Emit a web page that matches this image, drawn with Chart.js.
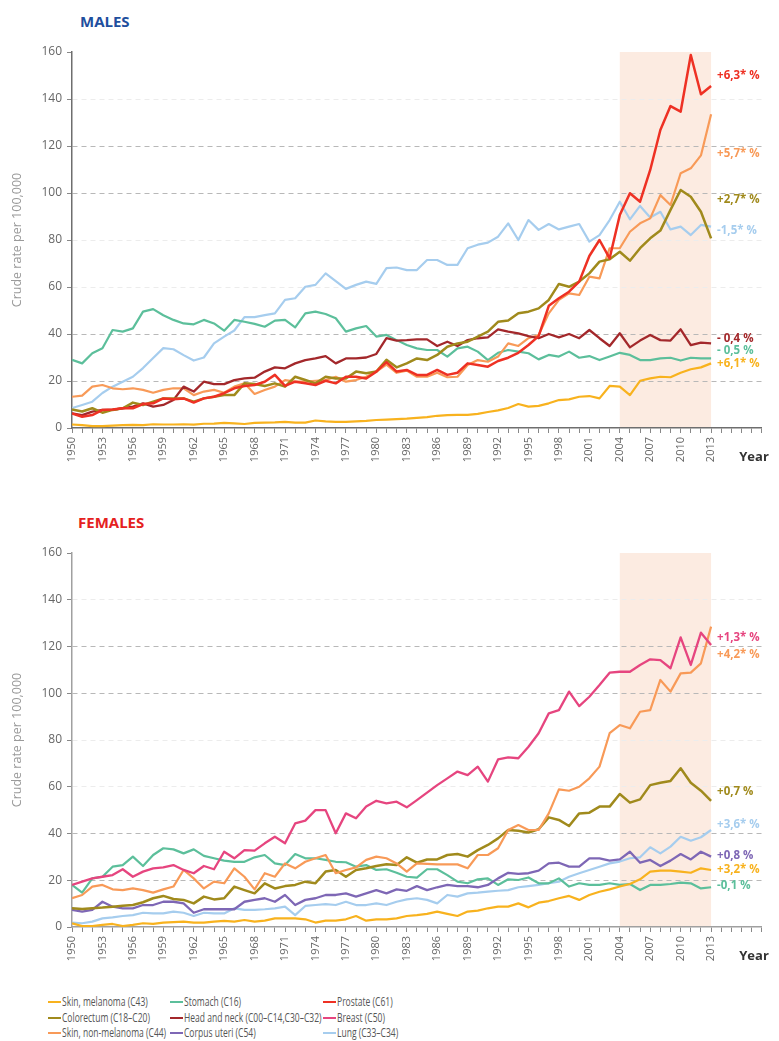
<!DOCTYPE html>
<html><head><meta charset="utf-8">
<script src="https://cdn.jsdelivr.net/npm/chart.js@4.4.1/dist/chart.umd.min.js"></script>
<style>
body{margin:0;background:#fff;width:779px;height:1041px;position:relative;overflow:hidden;font-family:"Open Sans",sans-serif;}
.title{position:absolute;font-weight:bold;font-size:15px;line-height:18px;}
#c1{position:absolute;left:0;top:0;}
#c2{position:absolute;left:0;top:500px;}
.item{position:absolute;white-space:nowrap;height:14px;line-height:14px;font-family:"Open Sans",sans-serif;font-size:12px;color:#555;}
.item i{display:inline-block;width:13px;height:2.5px;vertical-align:middle;margin-right:1px;position:relative;top:-1px;}
.item span{display:inline-block;transform:scaleX(0.71);transform-origin:left center;}
</style></head>
<body>
<div class="title" style="left:80px;top:12px;color:#1f4f9e;">MALES</div>
<div class="title" style="left:78px;top:513px;color:#e5211e;">FEMALES</div>
<canvas id="c1" width="779" height="480"></canvas>
<canvas id="c2" width="779" height="475"></canvas>
<div id="legend"></div>
<script>
// ---------- data ----------
const years = Array.from({length: 64}, (_, i) => 1950 + i);
const labelYears = [1950,1953,1956,1959,1962,1965,1968,1971,1974,1977,1980,1983,1986,1989,1992,1995,1998,2001,2004,2007,2010,2013];
const shadeStart = 2004, shadeEnd = 2013;

// MALES
const mStomach = [29,27.5,31.8,33.9,41.7,41,42.4,49.5,50.6,48, 46,44.5,44.1,46,44.5,41.4,46,45.2,44.3,43.1, 45.7,46,42.8,48.8,49.5,48.5,46.7,41,42.4,43.4, 38.9,39.6,37.4,35.3,33.9,33.2,33.2,30.4,33.9,34.6, 32.5,28.9,32,33.2,32.5,31.8,29.2,31.1,30.4,32.5, 29.9,30.6,28.9,30.4,32,31.1,28.9,28.9,29.6,29.9, 28.7,29.9,29.6,29.6];
const mLung = [8.5,9.8,11.2,14.9,17.6,19.7,21.8,25.5,29.8,34, 33.5,31,28.7,30,36,38.9,41.5,47.2,47.2,48, 48.8,54.5,55.2,60.1,60.9,65.8,62.5,59.2,60.9,62.3, 61.3,68,68.3,67.2,67.2,71.5,71.5,69.4,69.4,76.5, 78,78.9,81.4,87.1,80,88.5,84.3,86.8,84.5,85.7, 86.8,79.3,82.1,88.5,96.3,88.8,94.5,89.6,92,84.5, 85.7,82.1,86.4,85.7];
const mHeadNeck = [6.2,5.5,7,7.7,7.7,8.4,9.1,10.5,9.1,9.8, 11.9,17.6,15.5,19.7,18.7,18.7,20.4,21.1,21.4,24, 25.8,25.4,27.5,28.9,29.6,30.6,27.5,29.6,29.6,30, 31.5,38.2,37.2,37.4,37.7,37.7,34.9,36.7,34.9,37.4, 38.2,38.6,42,41,40.3,39.1,38.2,40,38.6,40, 38.2,41.7,38.2,34.9,40.3,34.3,37.2,39.6,37.4,37.2, 42,35.3,36.3,36];
const mSkinNonMel = [13.3,13.8,17.6,18.3,16.9,16.5,16.9,16.2,15,16.2, 16.9,16.9,14,15.5,16.2,15,17.6,19,14.5,16.2, 17.6,20.4,19.7,19.7,20.1,20.4,21.8,19.7,20.4,21.8, 24,27,23.5,24.4,21.8,21.8,23.5,21.6,21.8,26.8, 28.9,28.2,30.4,36,34.9,38.2,39.6,48.8,54.5,57.3, 56.6,64.4,63.7,76.5,76.5,83.5,87.1,89.2,99.1,94.9, 108.4,110.5,116,133.5];
const mColorectum = [7.9,7,8.4,6.5,7.7,8.4,10.8,9.8,11.2,12.6, 12.6,12.6,11.2,12.6,13.3,14,14,19,18.7,17.9, 19,17.6,21.8,20.4,19,21.8,21.1,21.1,24,23.3, 24,29,25.8,27.5,29.6,28.9,31.1,34.6,36,36.7, 38.9,41,45.2,45.7,48.8,49.5,50.9,54.5,61.3,60.1, 62.3,65.8,70.8,71.8,75,71.2,76.5,80.7,84,92.8, 101.3,98.4,92,80.7];
const mProstate = [6.2,4.8,5.5,7.7,7.9,8.4,8.4,10.2,10.5,12.6, 12.2,12.6,10.8,12.6,13.3,14.8,16.9,17.9,18.3,19.7, 22.6,17.9,19.7,19,18.3,20.1,19,21.8,21.8,21.1, 24,28,24,24.7,22.6,22.6,24.7,22.6,23.5,27.5, 26.8,26.1,28.5,29.9,32,35.3,39.1,52,55.2,58, 62.3,73.2,80,72.2,90.6,99.9,96.3,109.8,126.8,137, 134.6,158.7,142,145.5];
const mMelanoma = [1.5,1.2,0.8,0.8,1,1.2,1.3,1.2,1.6,1.5, 1.5,1.6,1.4,1.8,1.9,2.2,2,1.7,2.2,2.3, 2.4,2.6,2.3,2.3,3.2,2.8,2.6,2.6,2.8,3, 3.4,3.6,3.8,4,4.3,4.6,5.2,5.5,5.6,5.6, 6,6.8,7.5,8.5,10.2,9.1,9.4,10.5,11.9,12.2, 13.3,13.6,12.6,17.9,17.6,14,20.1,21.1,21.8,21.6, 23.5,25,25.8,27.5];

// FEMALES
const fBreast = [18,19.4,20.8,21.5,22.2,24.7,21.5,23.7,25.1,25.5, 26.5,24.4,23,26.1,24.7,32.2,29.4,32.9,32.7,35.8, 38.6,35.8,44.3,45.5,50,50,40.1,48.6,46.5,51.5, 54,52.9,53.6,51.2,54.3,57.5,60.7,63.6,66.5,65, 68.6,62.2,71.7,72.6,72.2,77.1,82.9,91.4,92.8,100.7, 94.5,98.5,103.5,108.8,109.2,109.2,112.1,114.5,114.2,110.7, 123.9,112.1,125.9,120.6];
const fSkinNonMel = [12.3,13.7,17.3,18,16.1,15.8,16.5,15.8,14.7,16.1, 17.3,24.4,20.8,16.5,19.4,18.7,25.1,21.5,16.1,23, 21.5,27.2,25.1,27.9,29.4,30.8,23,24.4,25.5,28.7, 30.1,29.4,27.2,23.7,27.2,27,26.8,26.8,26.8,25.1, 30.8,30.8,33.7,41.5,43.6,41.5,41.5,48.6,58.9,58.3, 60,63.6,68.6,82.9,86.4,85,92.1,92.8,105.7,100.7, 108.5,108.8,112.8,128.5];
const fColorectum = [8,7.7,8,8.3,8.7,9.1,9.4,10.6,12.3,13.3, 12,11.6,10.1,13,11.8,12.3,17.3,15.8,14.4,18.7, 16.5,17.5,18,19.4,18.7,23.7,24.4,21.5,24.4,25.1, 26.1,26.8,26.5,29.8,27.5,28.9,28.9,30.8,31.2,30.1, 32.9,35.1,37.9,41.5,41.2,40.4,41.8,46.9,45.8,43.2, 48.6,48.9,51.5,51.5,56.9,53.2,54.6,60.7,61.7,62.5, 67.9,61.7,58.3,54];
const fStomach = [18,14.7,20.8,21.5,25.8,26.5,30.1,26.1,30.8,33.7, 33.2,31.5,33.2,30.4,29.4,28.4,27.9,27.9,29.8,30.8, 27.2,26.5,31.2,29.4,29.4,28.7,27.9,27.7,25.8,26.5, 24.4,24.7,23.2,21.5,21.1,24.7,24.7,22.2,19.4,18.7, 20.4,20.8,18,20.4,20.1,21.2,18.7,18.7,20.8,17.3, 18.7,18,18,18.7,18,18.4,15.8,18,18,18.4, 19,18.7,16.5,17];
const fCorpusUteri = [7.3,6.6,7.3,10.8,8.7,8,8,9.4,9.4,10.8, 10.8,10.1,6.1,7.6,7.6,7.6,7.6,10.8,11.6,12.3, 10.8,13.7,9.4,11.6,12.3,13.7,13.7,14.4,13,14.4, 15.8,14.4,16.1,15.5,17.5,15.8,17,18,17.5,17.5, 17,18,20.8,23.2,22.7,23,24.1,27.2,27.5,25.8, 25.8,29.4,29.4,28.4,28.9,32.2,27.5,28.7,26.1,28.4, 31.2,28.9,32.2,30.1];
const fLung = [1.9,1.6,2.3,3.7,4.1,4.7,5.1,6.1,5.8,5.8, 6.6,6.1,4.7,6.1,5.8,5.8,8,7.3,7.3,7.6, 8,8.7,5.1,9,9.4,9.8,9.4,10.8,9.4,9.4, 10.1,9.4,10.8,11.8,12.3,11.6,10.1,13.7,13,14.4, 14.7,15.1,15.5,15.8,17,17.5,18,18.7,19.4,21.5, 23,24.4,25.8,27.2,28,29.4,29.8,34.1,31.5,34.4, 38.6,36.9,38.4,41.5];
const fMelanoma = [1.6,0.4,0.4,0.9,1.3,0.4,0.9,1.6,1.3,1.9, 2.1,2.3,1.9,1.9,2.3,2.6,2.3,3,2.3,2.7, 3.7,3.7,3.7,3.3,1.9,2.7,2.7,3.3,4.7,2.7, 3.3,3.3,3.7,4.7,5.1,5.6,6.6,5.6,4.7,6.6, 7,8,8.7,8.7,10.1,8.4,10.4,11.1,12.3,13.3, 11.6,13.7,15.1,16.1,17.3,18.4,20.4,23.7,24.1,24.1, 23.7,23.2,25.1,24.4];

// trend labels (text, value at which it is placed)
const mLabelTexts = ['+6,3* %','+5,7* %','+2,7* %','-1,5* %','- 0,4 %','- 0,5 %','+6,1* %'];
const mLabelValues = [150,116.6,97,84,38,32.9,27.2];
const fLabelTexts = ['+1,3* %','+4,2* %','+0,7 %','+3,6* %','+0,8 %','+3,2* %','-0,1 %'];
const fLabelValues = [123.6,116.4,57.8,43.6,30.4,24.4,17.5];

// ---------- colours ----------
const C = {
  melanoma:'#f8b21e', colorectum:'#a08a1c', skinNonMel:'#f89a58', stomach:'#5cbf9b',
  headNeck:'#a3282b', corpus:'#7e67b5', prostate:'#ee3124', breast:'#e6457f', lung:'#a6cdee'
};
const mLabelColors = [C.prostate,C.skinNonMel,C.colorectum,C.lung,C.headNeck,C.stomach,C.melanoma];
const fLabelColors = [C.breast,C.skinNonMel,C.colorectum,C.lung,C.corpus,C.melanoma,C.stomach];

const pts = arr => years.map((yr, i) => ({x: yr, y: arr[i]}));
const ds = (label, arr, color, w) => ({label, data: pts(arr), borderColor: color, backgroundColor: color,
  borderWidth: w || 2.2, pointRadius: 0, tension: 0, borderJoinStyle: 'round', fill: false});

const strongGrid = [20,40,100,120];
function makeOptions(axisColor, xHeight, padTop, labelTexts, labelValues, labelColors) {
  return {
    responsive: false, animation: false, events: [],
    layout: {padding: {left: 0, top: padTop, right: 16, bottom: 0}},
    plugins: {legend: {display: false}, tooltip: {enabled: false},
      endLabels: {texts: labelTexts, values: labelValues, colors: labelColors}},
    scales: {
      x: {type: 'linear', min: 1950, max: 2018,
        afterFit: s => { s.height = xHeight; },
        grid: {drawOnChartArea: false, drawTicks: true, tickLength: 5, tickColor: '#888', tickWidth: 1},
        border: {color: axisColor, width: 1.5},
        ticks: {stepSize: 1, autoSkip: false, maxRotation: 90, minRotation: 90, padding: 4,
          color: '#666', font: {family: 'Open Sans', size: 11},
          callback: v => labelYears.includes(v) ? String(v) : ''}
      },
      y: {min: 0, max: 160,
        afterFit: s => { s.width = 72; },
        grid: {color: c => { const v = c.tick ? c.tick.value : 0; if (v === 0 || v === 160) return 'rgba(0,0,0,0)'; return strongGrid.includes(v) ? '#b8b8b8' : '#ececec'; },
          lineWidth: 1, tickColor: '#888', tickLength: 5},
        border: {color: axisColor, width: 1.5, dash: [5, 4]},
        ticks: {stepSize: 20, padding: 5, color: '#666', font: {family: 'Open Sans', size: 12}},
        title: {display: true, text: 'Crude rate per 100,000', color: '#9a9a9a',
          font: {family: 'Open Sans', size: 12.5}, padding: {top: 10, bottom: 0}}
      }
    }
  };
}

const shadePlugin = {
  id: 'shade',
  beforeDraw(chart) {
    const {ctx, scales: {x, y}} = chart;
    const x0 = x.getPixelForValue(shadeStart), x1 = x.getPixelForValue(shadeEnd);
    const y0 = y.getPixelForValue(160), y1 = y.getPixelForValue(0);
    ctx.save(); ctx.fillStyle = '#fcebe1'; ctx.fillRect(x0, y0, x1 - x0, y1 - y0); ctx.restore();
  }
};
const labelPlugin = {
  id: 'endLabels',
  afterDatasetsDraw(chart, args, opts) {
    const {ctx, scales: {x, y}} = chart;
    ctx.save();
    ctx.font = 'bold 11.5px "Open Sans"';
    ctx.textBaseline = 'middle'; ctx.textAlign = 'left';
    const lx = x.getPixelForValue(2013) + 6;
    opts.texts.forEach((t, i) => { ctx.fillStyle = opts.colors[i]; ctx.fillText(t, lx, y.getPixelForValue(opts.values[i])); });
    ctx.font = 'bold 13px "Open Sans"'; ctx.fillStyle = '#333'; ctx.textAlign = 'right';
    ctx.fillText('Year', x.getPixelForValue(2018) + 7, chart.chartArea.bottom + 29);
    ctx.restore();
  }
};

new Chart(document.getElementById('c1'), {
  type: 'line',
  data: {datasets: [
    ds('Prostate (C61)', mProstate, C.prostate, 2.5),
    ds('Colorectum (C18–C20)', mColorectum, C.colorectum, 2.5),
    ds('Head and neck (C00–C14,C30–C32)', mHeadNeck, C.headNeck, 2.3),
    ds('Skin, non-melanoma (C44)', mSkinNonMel, C.skinNonMel, 2.2),
    ds('Stomach (C16)', mStomach, C.stomach, 2.2),
    ds('Skin, melanoma (C43)', mMelanoma, C.melanoma, 2.2),
    ds('Lung (C33–C34)', mLung, C.lung, 2.2)
  ]},
  options: makeOptions('#6e6e6e', 52, 52, mLabelTexts, mLabelValues, mLabelColors),
  plugins: [shadePlugin, labelPlugin]
});
new Chart(document.getElementById('c2'), {
  type: 'line',
  data: {datasets: [
    ds('Breast (C50)', fBreast, C.breast, 2.3),
    ds('Skin, non-melanoma (C44)', fSkinNonMel, C.skinNonMel, 2.2),
    ds('Colorectum (C18–C20)', fColorectum, C.colorectum, 2.5),
    ds('Corpus uteri (C54)', fCorpusUteri, C.corpus, 2.3),
    ds('Skin, melanoma (C43)', fMelanoma, C.melanoma, 2.2),
    ds('Stomach (C16)', fStomach, C.stomach, 2.2),
    ds('Lung (C33–C34)', fLung, C.lung, 2.2)
  ]},
  options: makeOptions('#a0a0a0', 48, 53, fLabelTexts, fLabelValues, fLabelColors),
  plugins: [shadePlugin, labelPlugin]
});

// ---------- legend ----------
const legendItems = [
  ['Skin, melanoma (C43)', C.melanoma], ['Colorectum (C18–C20)', C.colorectum], ['Skin, non-melanoma (C44)', C.skinNonMel],
  ['Stomach (C16)', C.stomach], ['Head and neck (C00–C14,C30–C32)', C.headNeck], ['Corpus uteri (C54)', C.corpus],
  ['Prostate (C61)', C.prostate], ['Breast (C50)', C.breast], ['Lung (C33–C34)', C.lung]
];
const colX = [48, 170, 323], rowY = [995, 1011, 1026];
const lg = document.getElementById('legend');
legendItems.forEach(([t, c], i) => {
  const d = document.createElement('div'); d.className = 'item';
  d.style.left = colX[Math.floor(i / 3)] + 'px'; d.style.top = rowY[i % 3] + 'px';
  d.innerHTML = '<i style="background:' + c + '"></i><span>' + t + '</span>';
  lg.appendChild(d);
});
</script>
</body></html>
